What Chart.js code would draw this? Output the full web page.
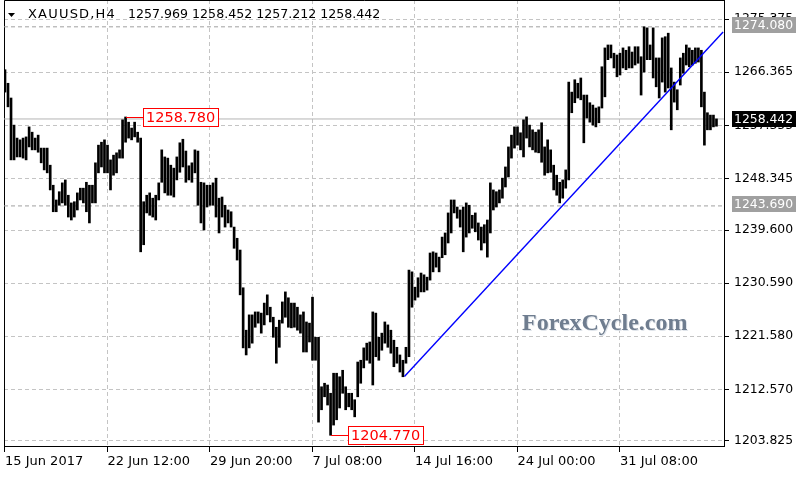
<!DOCTYPE html>
<html lang="en">
<head>
<meta charset="utf-8">
<title>XAUUSD H4</title>
<script src="https://cdn.jsdelivr.net/npm/chart.js@4.4.1/dist/chart.umd.min.js"></script>
<style>
  html, body { margin: 0; padding: 0; background: #fff; }
  canvas { display: block; }
</style>
</head>
<body>
<canvas id="grafik" width="800" height="480"></canvas>
<script>
// =====================================================
// DATA — XAUUSD H4 bars (one entry per bar, oldest first)
// =====================================================
const barHigh = [
  1266.8, 1264.5, 1262.0, 1257.4, 1255.2, 1254.9, 1255.2, 1255.4, 1257.1, 1256.2,
  1255.2, 1255.7, 1253.5, 1253.5, 1253.5, 1250.6, 1247.2, 1244.7, 1246.1, 1247.6,
  1248.1, 1245.5, 1244.2, 1244.4, 1245.9, 1246.7, 1246.7, 1247.7, 1247.2, 1247.2,
  1251.0, 1254.0, 1254.5, 1254.9, 1254.0, 1251.5, 1252.3, 1252.7, 1253.2, 1258.3,
  1258.78, 1257.9, 1256.9, 1257.9, 1256.2, 1255.2, 1244.4, 1245.5, 1245.9, 1245.0,
  1245.5, 1247.6, 1253.2, 1252.0, 1251.8, 1250.6, 1250.1, 1252.0, 1254.4, 1255.0,
  1253.0, 1250.5, 1251.0, 1253.2, 1253.0, 1247.7, 1247.6, 1247.2, 1247.2, 1247.6,
  1248.4, 1245.0, 1245.2, 1243.8, 1243.0, 1242.7, 1240.1, 1238.2, 1236.2, 1229.8,
  1222.6, 1225.2, 1225.2, 1225.7, 1225.7, 1225.5, 1227.2, 1228.6, 1226.5, 1224.8,
  1223.1, 1224.3, 1227.4, 1229.1, 1228.1, 1227.2, 1227.2, 1226.5, 1225.2, 1225.7,
  1224.0, 1223.8, 1228.2, 1221.4, 1221.4, 1213.0, 1213.6, 1213.3, 1211.9, 1215.3,
  1215.3, 1214.7, 1215.8, 1213.0, 1211.9, 1211.9, 1210.8, 1217.2, 1217.5, 1219.6,
  1220.4, 1220.6, 1225.7, 1225.5, 1221.4, 1222.1, 1224.0, 1223.5, 1222.6, 1220.9,
  1219.7, 1218.4, 1217.5, 1219.7, 1232.8, 1232.5, 1229.9, 1231.5, 1232.3, 1232.0,
  1231.6, 1235.7, 1235.9, 1235.7, 1235.0, 1238.4, 1239.1, 1242.5, 1244.7, 1244.7,
  1243.5, 1243.0, 1243.5, 1244.2, 1243.8, 1242.1, 1242.5, 1240.8, 1240.1, 1240.5,
  1241.3, 1247.6, 1246.4, 1246.1, 1246.4, 1248.4, 1250.3, 1253.7, 1255.7, 1257.1,
  1257.1, 1256.1, 1258.3, 1258.8, 1257.4, 1256.6, 1256.2, 1256.6, 1257.8, 1253.7,
  1254.9, 1253.2, 1250.6, 1248.9, 1247.7, 1248.1, 1249.8, 1264.7, 1263.0, 1265.1,
  1264.5, 1265.4, 1262.5, 1262.5, 1261.2, 1260.8, 1260.3, 1260.5, 1267.3, 1270.5,
  1271.0, 1271.0, 1269.6, 1269.3, 1269.6, 1270.5, 1270.1, 1270.7, 1269.8, 1270.7,
  1270.7, 1269.0, 1274.08, 1273.9, 1271.0, 1273.9, 1268.8, 1268.8, 1272.2, 1272.4,
  1273.0, 1267.1, 1264.7, 1263.4, 1268.8, 1269.6, 1271.0, 1270.5, 1270.1, 1270.5,
  1270.5, 1270.1, 1263.0, 1259.5, 1259.1, 1259.1, 1258.452
];
const barLow = [
  1263.0, 1260.5, 1251.5, 1251.5, 1252.0, 1252.0, 1251.8, 1251.5, 1253.7, 1253.2,
  1253.2, 1252.8, 1251.0, 1249.8, 1249.3, 1246.4, 1242.7, 1242.7, 1243.8, 1244.2,
  1243.8, 1241.8, 1241.3, 1241.8, 1243.0, 1244.7, 1244.2, 1242.7, 1240.8, 1244.2,
  1244.2, 1249.3, 1250.3, 1249.3, 1249.3, 1246.4, 1248.9, 1249.3, 1251.8, 1251.8,
  1254.5, 1255.2, 1254.9, 1255.4, 1254.5, 1235.9, 1237.1, 1242.5, 1242.1, 1241.8,
  1241.3, 1244.7, 1247.7, 1245.9, 1245.5, 1245.5, 1245.2, 1248.1, 1249.4, 1250.3,
  1247.7, 1248.1, 1247.7, 1249.3, 1243.8, 1240.8, 1239.6, 1243.5, 1243.8, 1243.8,
  1241.8, 1239.1, 1241.8, 1240.1, 1240.8, 1240.1, 1236.5, 1234.5, 1228.6, 1219.6,
  1218.4, 1219.6, 1220.4, 1223.1, 1223.8, 1222.1, 1223.5, 1225.2, 1224.0, 1221.4,
  1217.0, 1219.7, 1223.8, 1224.8, 1223.1, 1223.0, 1223.1, 1222.6, 1222.1, 1218.9,
  1218.9, 1220.6, 1217.5, 1217.5, 1207.0, 1209.1, 1211.3, 1209.9, 1204.77, 1206.5,
  1207.4, 1209.4, 1211.9, 1209.1, 1209.6, 1209.1, 1207.9, 1211.3, 1213.6, 1216.2,
  1217.5, 1217.0, 1213.3, 1218.1, 1217.5, 1219.2, 1220.4, 1219.7, 1218.7, 1216.4,
  1217.0, 1215.5, 1214.7, 1217.0, 1218.1, 1226.5, 1227.7, 1228.2, 1229.1, 1229.1,
  1229.4, 1231.1, 1232.5, 1233.3, 1232.5, 1234.9, 1235.4, 1237.4, 1239.1, 1242.5,
  1241.6, 1240.1, 1235.9, 1238.4, 1239.1, 1239.9, 1239.3, 1237.9, 1236.2, 1237.4,
  1235.0, 1239.1, 1243.0, 1243.5, 1244.2, 1245.0, 1246.9, 1248.6, 1251.8, 1253.5,
  1254.0, 1253.2, 1252.0, 1255.2, 1253.7, 1253.2, 1252.8, 1252.7, 1251.1, 1248.9,
  1249.3, 1249.4, 1246.4, 1245.5, 1244.2, 1245.0, 1246.7, 1248.1, 1259.5, 1261.2,
  1262.0, 1261.7, 1254.4, 1258.6, 1257.9, 1257.4, 1257.1, 1257.8, 1260.3, 1262.2,
  1268.5, 1268.8, 1267.1, 1265.6, 1265.9, 1267.1, 1266.8, 1267.1, 1267.1, 1267.6,
  1267.9, 1262.5, 1266.4, 1268.5, 1268.5, 1265.4, 1263.9, 1262.0, 1264.7, 1263.0,
  1263.7, 1256.6, 1261.3, 1260.0, 1264.2, 1266.2, 1267.6, 1267.3, 1267.6, 1267.9,
  1268.1, 1260.5, 1254.0, 1256.6, 1256.6, 1257.1, 1257.212
];

// x-axis: bar index under each date label
const xTickBars = [0, 34, 68, 102, 136, 170, 204];
const xTickLabels = ["15 Jun 2017", "22 Jun 12:00", "29 Jun 20:00", "7 Jul 08:00",
                     "14 Jul 16:00", "24 Jul 00:00", "31 Jul 08:00"];

// y-axis: price ticks of the right scale
const yTickValues = [1203.825, 1212.570, 1221.580, 1230.590, 1239.600,
                     1248.345, 1257.355, 1266.365, 1275.375];

// trend line from the 13 Jul swing low (bar index / price)
const trendBars = [132.5, 238.2];
const trendPrices = [1214.75, 1273.2];

// horizontal levels (grey labels) and current bid (black label)
const levelPrices = [1274.080, 1243.690];
const bidPrice = 1258.442;

// swing high / low with red labels
const markBars = [40, 108];
const markPrices = [1258.780, 1204.770];

// header line: symbol + OHLC of last bar
const titleSymbol = "XAUUSD,H4";
const titleOHLC = [1257.969, 1258.452, 1257.212, 1258.442];

// visible window of the chart
const X_MIN = -0.33, X_MAX = 238.5;
const Y_MIN = 1202.95, Y_MAX = 1278.63;

const FONT = "DejaVu Sans";

// =====================================================
// PLUGIN: frame, watermark, labels and header
// =====================================================
const overlayPlugin = {
  id: "overlay",
  beforeDatasetsDraw(chart) {
    const { ctx, chartArea: a } = chart;
    ctx.save();
    // watermark
    ctx.font = 'bold 24px "Liberation Serif"';
    ctx.textBaseline = "alphabetic";
    ctx.fillStyle = "#dfe4ea";
    ctx.fillText("ForexCycle.com", 523, 331);
    ctx.fillStyle = "#6f7d8f";
    ctx.fillText("ForexCycle.com", 522, 330);
    // frame left + top
    ctx.strokeStyle = "#000";
    ctx.lineWidth = 1;
    ctx.beginPath();
    ctx.moveTo(a.left + 0.5, a.bottom);
    ctx.lineTo(a.left + 0.5, a.top + 0.5);
    ctx.lineTo(a.right, a.top + 0.5);
    ctx.stroke();
    ctx.restore();
  },
  afterDatasetsDraw(chart) {
    const { ctx, scales: { x, y } } = chart;
    ctx.save();
    ctx.font = `14.5px "${FONT}"`;
    ctx.textBaseline = "middle";
    markBars.forEach((bar, i) => {
      const bx = Math.round(x.getPixelForValue(bar));
      const by = Math.round(y.getPixelForValue(markPrices[i])) + 0.5;
      const left = bx + 17;
      ctx.strokeStyle = "#ff0000";
      ctx.lineWidth = 1;
      ctx.beginPath();
      ctx.moveTo(bx, by);
      ctx.lineTo(left, by);
      ctx.stroke();
      ctx.fillStyle = "#fff";
      ctx.fillRect(left, by - 9.5, 76, 19);
      ctx.strokeRect(left + 0.5, by - 9, 75, 18);
      ctx.fillStyle = "#ff0000";
      ctx.fillText(markPrices[i].toFixed(3), left + 3, by + 0.5);
    });
    ctx.restore();
  },
  afterDraw(chart) {
    const { ctx, scales: { y } } = chart;
    ctx.save();
    // price boxes on the right axis (grey ones sit ~2px high, like the terminal)
    ctx.font = `12.4px "${FONT}"`;
    ctx.textBaseline = "middle";
    const kotak = (price, bg, shift) => {
      const py = Math.round(y.getPixelForValue(price)) - shift;
      ctx.fillStyle = bg;
      ctx.fillRect(y.left + 8, py - 8, 64, 16);
      ctx.fillStyle = "#fff";
      ctx.fillText(price.toFixed(3), y.left + 10, py + 1);
    };
    levelPrices.forEach(p => kotak(p, "#a0a0a0", 2));
    kotak(bidPrice, "#000", 0);

    // header
    ctx.fillStyle = "#000";
    ctx.beginPath();
    ctx.moveTo(8, 13);
    ctx.lineTo(15, 13);
    ctx.lineTo(11.5, 17);
    ctx.closePath();
    ctx.fill();
    ctx.font = `13px "${FONT}"`;
    ctx.letterSpacing = "1.2px";
    ctx.fillText(titleSymbol, 28, 15);
    ctx.letterSpacing = "0px";
    ctx.font = `12.6px "${FONT}"`;
    ctx.fillText(titleOHLC.map(v => v.toFixed(3)).join(" "), 128, 15);
    ctx.restore();
  }
};

// =====================================================
// CHART
// =====================================================
const garisDatar = (price, color, dash, order) => ({
  type: "line",
  data: [{ x: X_MIN, y: price }, { x: X_MAX, y: price }],
  borderColor: color,
  borderWidth: 1,
  borderDash: dash,
  pointRadius: 0,
  order: order
});

new Chart(document.getElementById("grafik"), {
  type: "bar",
  data: {
    datasets: [
      {
        label: "XAUUSD",
        data: barHigh.map((h, i) => ({ x: i, y: [barLow[i], h] })),
        backgroundColor: "#000",
        borderWidth: 0,
        barThickness: 2,
        order: 1
      },
      {
        type: "line",
        data: trendBars.map((b, i) => ({ x: b, y: trendPrices[i] })),
        borderColor: "#0000ff",
        borderWidth: 1.4,
        pointRadius: 0,
        order: 0
      },
      ...levelPrices.map(p => garisDatar(p, "#a0a0a0", [4, 3], 3)),
      garisDatar(bidPrice, "#b4b4b4", [], 2)
    ]
  },
  options: {
    responsive: false,
    animation: false,
    events: [],
    layout: { padding: { left: 4, top: 0, right: 0, bottom: 0 }, autoPadding: false },
    plugins: { legend: { display: false }, tooltip: { enabled: false } },
    scales: {
      x: {
        type: "linear",
        min: X_MIN,
        max: X_MAX,
        offset: false,
        afterBuildTicks: s => { s.ticks = xTickBars.map(v => ({ value: v })); },
        afterFit: s => { s.height = 34; s.paddingLeft = 0; s.paddingRight = 0; },
        ticks: {
          autoSkip: false, maxRotation: 0, minRotation: 0, align: "start", padding: 2,
          color: "#000", font: { family: FONT, size: 13 },
          callback: v => xTickLabels[xTickBars.indexOf(v)] ?? ""
        },
        grid: { offset: false, color: "#c4c4c4", tickColor: "#000", tickLength: 6 },
        border: { color: "#000", width: 1, dash: [4, 3] }
      },
      y: {
        position: "right",
        min: Y_MIN,
        max: Y_MAX,
        afterBuildTicks: s => { s.ticks = yTickValues.map(v => ({ value: v })); },
        afterFit: s => { s.width = 76; s.paddingTop = 0; s.paddingBottom = 0; },
        ticks: {
          padding: 5, color: "#000", font: { family: FONT, size: 12.4 },
          callback: v => v.toFixed(3)
        },
        grid: { offset: false, color: "#c4c4c4", tickColor: "#000", tickLength: 5 },
        border: { color: "#000", width: 1, dash: [4, 3] }
      }
    }
  },
  plugins: [overlayPlugin]
});
</script>
</body>
</html>
